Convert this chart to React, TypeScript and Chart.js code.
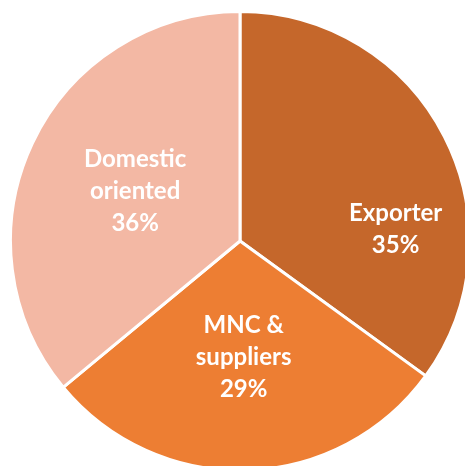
import React, { useEffect, useRef } from "react";
import { Chart, registerables } from "chart.js";

Chart.register(...registerables);

const categories = ["Exporter", "MNC & suppliers", "Domestic oriented"];
const labelLines = [["Exporter"], ["MNC &", "suppliers"], ["Domestic", "oriented"]];
const shares = [35, 29, 36];
const sliceColors = ["#C5672B", "#ED7E33", "#F3B8A4"];

// label placement: fraction of radius and angular shift (degrees) from the bisector
const labelPlacement = [
  { frac: 0.68, shift: 22.6 },
  { frac: 0.505, shift: 0 },
  { frac: 0.505, shift: 0 },
];

const labelPlugin = {
  id: "sliceLabels",
  afterDatasetsDraw(chart: any) {
    const ctx = chart.ctx;
    const meta = chart.getDatasetMeta(0);
    ctx.save();
    ctx.fillStyle = "#FFFFFF";
    ctx.font = "bold 24px Lato";
    ctx.textAlign = "center";
    ctx.textBaseline = "middle";
    const lh = 32;
    meta.data.forEach((arc: any, i: number) => {
      const p = arc.getProps(["x", "y", "startAngle", "endAngle", "outerRadius"], true);
      const place = labelPlacement[i];
      const mid = (p.startAngle + p.endAngle) / 2 + (place.shift * Math.PI) / 180;
      const cx = p.x + Math.cos(mid) * p.outerRadius * place.frac;
      const cy = p.y + Math.sin(mid) * p.outerRadius * place.frac;
      const lines = [...labelLines[i], `${shares[i]}%`];
      const top = cy - ((lines.length - 1) * lh) / 2;
      lines.forEach((t, k) => ctx.fillText(t, cx, top + k * lh));
    });
    ctx.restore();
  },
};

export default function App() {
  const ref = useRef<HTMLCanvasElement>(null);
  useEffect(() => {
    if (!ref.current) return;
    const chart = new Chart(ref.current, {
      type: "pie",
      data: {
        labels: categories,
        datasets: [
          {
            data: shares,
            backgroundColor: sliceColors,
            borderColor: "#FFFFFF",
            borderWidth: 3,
          },
        ],
      },
      options: {
        animation: false,
        responsive: true,
        maintainAspectRatio: false,
        layout: { padding: 0 },
        plugins: { legend: { display: false }, tooltip: { enabled: false } },
      },
      plugins: [labelPlugin],
    });
    return () => chart.destroy();
  }, []);
  return (
    <div style={{ position: "fixed", inset: 0, overflow: "hidden", background: "#FFFFFF" }}>
      <div style={{ position: "absolute", left: 9, top: 10, width: 462, height: 462 }}>
        <canvas ref={ref} />
      </div>
    </div>
  );
}
